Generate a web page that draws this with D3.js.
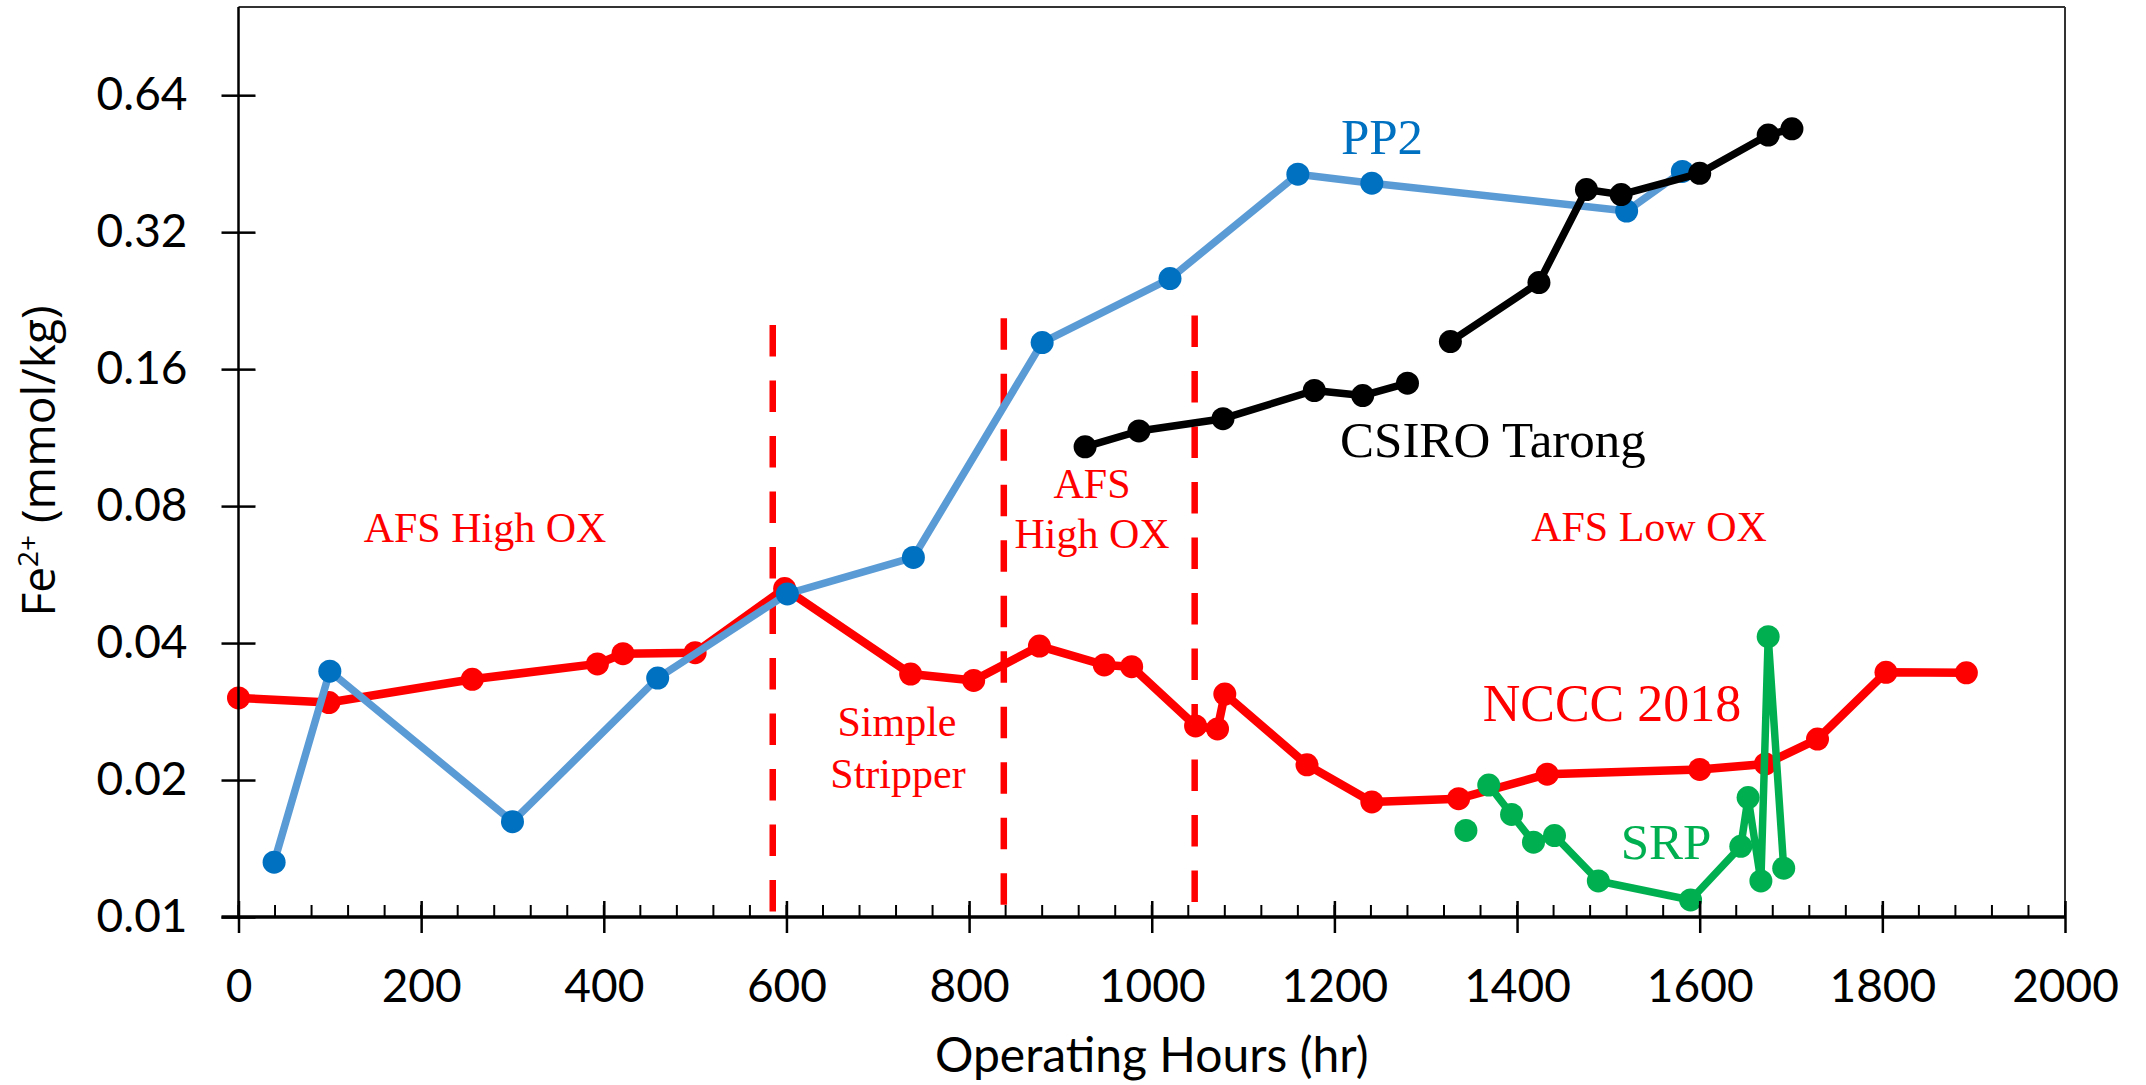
<!DOCTYPE html>
<html>
<head>
<meta charset="utf-8">
<script src="https://cdn.jsdelivr.net/npm/d3@7"></script>
<style>
  body { margin: 0; background: #fff; }
  svg { display: block; }
</style>
</head>
<body>
<svg id="chart"></svg>
<script>
// data (hours, Fe2+ mmol/kg)
var ncccHours = [0, 99, 256, 393, 421, 500, 598, 736, 805, 877, 948, 978, 1048, 1072, 1080, 1170, 1241, 1336, 1433, 1600, 1672, 1729, 1804, 1892];
var ncccFe = [0.0303, 0.0296, 0.0333, 0.0360, 0.0379, 0.0381, 0.0527, 0.0342, 0.0331, 0.0394, 0.0358, 0.0355, 0.0263, 0.0259, 0.0309, 0.0216, 0.0179, 0.0182, 0.0206, 0.0211, 0.0217, 0.0246, 0.0345, 0.0344];

var pp2Hours = [39, 100, 300, 459, 601, 739, 880, 1020, 1160, 1241, 1520, 1581];
var pp2Fe = [0.0132, 0.0347, 0.0162, 0.0335, 0.0513, 0.0617, 0.183, 0.253, 0.429, 0.410, 0.356, 0.435];

// null = gap in the line
var csiroHours = [927, 986, 1078, 1178, 1231, 1280, null, 1327, 1424, 1476, 1514, 1600, 1675, 1701];
var csiroFe = [0.108, 0.117, 0.1245, 0.1436, 0.140, 0.149, null, 0.184, 0.248, 0.397, 0.387, 0.431, 0.523, 0.540];

var srpHours = [1344, null, 1369, 1394, 1418, 1441, 1489, 1590, 1645, 1653, 1667, 1675, 1692];
var srpFe = [0.0155, null, 0.0195, 0.0168, 0.0146, 0.0151, 0.0120, 0.0109, 0.0143, 0.0183, 0.0120, 0.0413, 0.0128];

// operating-mode boundaries (dashed red lines)
var phaseHours = [585, 838, 1047];
var phaseTop = [0.200, 0.207, 0.210];

var yTicks = [0.01, 0.02, 0.04, 0.08, 0.16, 0.32, 0.64];
var yTickLabels = ["0.01", "0.02", "0.04", "0.08", "0.16", "0.32", "0.64"];
var xTicks = [0, 200, 400, 600, 800, 1000, 1200, 1400, 1600, 1800, 2000];
var xMinorTicks = d3.range(0, 2001, 40);

var width = 2146, height = 1085;
var margin = {top: 7, right: 81, bottom: 168, left: 238.5};

var svg = d3.select("#chart").attr("width", width).attr("height", height);

var x = d3.scaleLinear().domain([0, 2000]).range([margin.left, width - margin.right]);
var y = d3.scaleLog().base(2).domain([0.01, 1]).range([height - margin.bottom, margin.top]);

var zip = function (hs, vs) {
  return hs.map(function (h, i) { return {h: h, v: vs[i]}; });
};

// dashed phase lines
svg.append("g").selectAll("line")
  .data(phaseHours)
  .enter().append("line")
  .attr("x1", function (d) { return x(d); })
  .attr("x2", function (d) { return x(d); })
  .attr("y1", function (d, i) { return y(phaseTop[i]); })
  .attr("y2", y(0.01))
  .style("stroke", "#ff0000")
  .style("stroke-width", 6.5)
  .style("stroke-dasharray", "31.5,24");

var line = d3.line()
  .defined(function (d) { return d.h != null; })
  .x(function (d) { return x(d.h); })
  .y(function (d) { return y(d.v); });

function drawSeries(data, lineColor, markColor, lw) {
  var g = svg.append("g");
  g.append("path")
    .datum(data)
    .attr("d", line)
    .style("fill", "none")
    .style("stroke", lineColor)
    .style("stroke-width", lw)
    .style("stroke-linejoin", "round");
  g.selectAll("circle")
    .data(data.filter(function (d) { return d.h != null; }))
    .enter().append("circle")
    .attr("cx", function (d) { return x(d.h); })
    .attr("cy", function (d) { return y(d.v); })
    .attr("r", 11.5)
    .style("fill", markColor);
}

drawSeries(zip(ncccHours, ncccFe), "#ff0000", "#ff0000", 8.5);
drawSeries(zip(pp2Hours, pp2Fe), "#5b9bd5", "#0070c0", 7.5);
drawSeries(zip(csiroHours, csiroFe), "#000000", "#000000", 7.5);
drawSeries(zip(srpHours, srpFe), "#00b050", "#00b050", 7.5);

// frame
var x0 = x(0), x1 = x(2000), yb = y(0.01), yt = margin.top;
svg.append("line").attr("x1", x0).attr("x2", x1).attr("y1", yt).attr("y2", yt)
  .style("stroke", "#333").style("stroke-width", 2);
svg.append("line").attr("x1", x1).attr("x2", x1).attr("y1", yt).attr("y2", yb)
  .style("stroke", "#333").style("stroke-width", 2);
svg.append("line").attr("x1", x0).attr("x2", x0).attr("y1", yt).attr("y2", yb)
  .style("stroke", "#000").style("stroke-width", 2.5);

// y axis
var gY = svg.append("g")
  .attr("transform", "translate(" + x0 + ",0)")
  .call(d3.axisLeft(y)
    .tickValues(yTicks)
    .tickFormat(function (d, i) { return yTickLabels[i]; })
    .tickSize(17)
    .tickPadding(34));
gY.select(".domain").remove();
gY.selectAll(".tick line").style("stroke-width", 2.5);
gY.selectAll(".tick").append("line").attr("x2", 17).style("stroke", "#000").style("stroke-width", 2.5);
gY.selectAll("text")
  .style("font-family", "Lato, 'Open Sans', sans-serif")
  .style("font-size", "46px")
  .style("fill", "#000");

// minor x ticks (inward)
svg.append("g").selectAll("line")
  .data(xMinorTicks)
  .enter().append("line")
  .attr("x1", function (d) { return x(d); })
  .attr("x2", function (d) { return x(d); })
  .attr("y1", yb - 12)
  .attr("y2", yb)
  .style("stroke", "#000")
  .style("stroke-width", 2);

// x axis
var gX = svg.append("g")
  .attr("transform", "translate(0," + yb + ")")
  .call(d3.axisBottom(x)
    .tickValues(xTicks)
    .tickFormat(d3.format("d"))
    .tickSize(16)
    .tickPadding(36));
gX.select(".domain").remove();
gX.selectAll(".tick line").style("stroke-width", 2.5);
gX.selectAll(".tick").append("line").attr("y2", -16).style("stroke", "#000").style("stroke-width", 2.5);
gX.selectAll("text")
  .style("font-family", "Lato, 'Open Sans', sans-serif")
  .style("font-size", "46px")
  .style("fill", "#000");

svg.append("line").attr("x1", x0 - 17).attr("x2", x1).attr("y1", yb).attr("y2", yb)
  .style("stroke", "#000").style("stroke-width", 3.5);

// axis titles
svg.append("text")
  .attr("x", (x0 + x1) / 2)
  .attr("y", 1072)
  .attr("text-anchor", "middle")
  .style("font-family", "Lato, 'Open Sans', sans-serif")
  .style("font-size", "48px")
  .text("Operating Hours (hr)");

var yLab = svg.append("text")
  .attr("transform", "translate(55,461) rotate(-90)")
  .attr("text-anchor", "middle")
  .style("font-family", "'Open Sans', sans-serif")
  .style("font-size", "46px");
yLab.append("tspan").text("Fe");
yLab.append("tspan").attr("dy", -17).style("font-size", "28px").text("2+");
yLab.append("tspan").attr("dy", 17).text(" (mmol/kg)");

// annotations
var serif = "'Liberation Serif', 'Times New Roman', serif";
function note(txt, xx, yy, size, color, anchor) {
  svg.append("text")
    .attr("x", xx).attr("y", yy)
    .attr("text-anchor", anchor || "middle")
    .style("font-family", serif)
    .style("font-size", size + "px")
    .style("fill", color)
    .text(txt);
}
note("AFS High OX", 485, 542, 42, "#ff0000");
note("AFS", 1092, 498, 42, "#ff0000");
note("High OX", 1092, 548, 42, "#ff0000");
note("Simple", 897, 736, 42, "#ff0000");
note("Stripper", 898, 788, 42, "#ff0000");
note("AFS Low OX", 1649, 541, 42, "#ff0000");
note("PP2", 1382, 154, 51, "#0070c0");
note("CSIRO Tarong", 1340, 457, 51, "#000000", "start");
note("NCCC 2018", 1612, 721, 52, "#ff0000");
note("SRP", 1666, 859, 51, "#00b050");
</script>
</body>
</html>
